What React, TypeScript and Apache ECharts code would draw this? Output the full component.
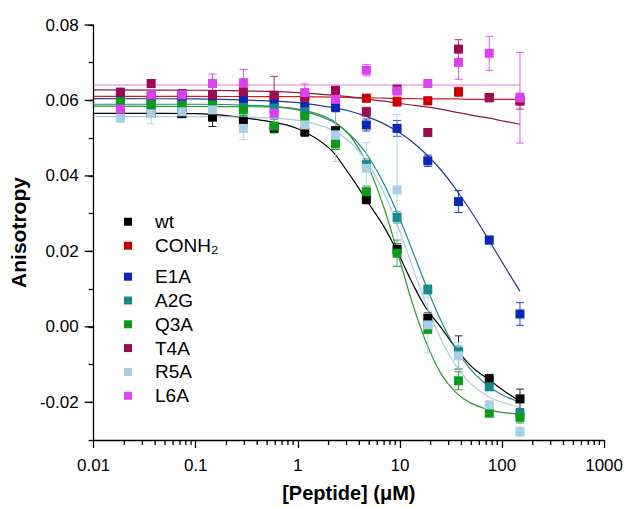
import React, { useEffect, useRef } from "react";
import * as echarts from "echarts";

const FONT = '"Liberation Sans", Arial, Helvetica, sans-serif';

// concentrations (µM), 2-fold dilution series
const conc = [0.0183, 0.0366, 0.0732, 0.146, 0.293, 0.586, 1.17, 2.34, 4.69, 9.38, 18.75, 37.5, 75, 150];

const wt = [0.0566, 0.0567, 0.0565, 0.0556, 0.0544, 0.0527, 0.0517, 0.052, 0.0338, 0.0205, 0.0022, -0.0068, -0.0138, -0.0191];
const wtErr = [0.001, 0.001, 0.001, 0.0025, 0.0015, 0.0012, 0.0012, 0.005, 0.0012, 0.0015, 0.0015, 0.0044, 0.0012, 0.0026];

const conh2 = [0.0612, 0.0612, 0.0611, 0.0614, 0.0612, 0.061, 0.0609, 0.0608, 0.0606, 0.0597, 0.0599, 0.0623, 0.0608, 0.0601];
const conh2Err = [0.001, 0.001, 0.001, 0.0012, 0.0012, 0.001, 0.001, 0.001, 0.001, 0.0012, 0.001, 0.0012, 0.001, 0.0012];

const e1a = [0.0603, 0.06, 0.0601, 0.0602, 0.06, 0.0597, 0.0585, 0.0582, 0.0535, 0.0526, 0.044, 0.0332, 0.023, 0.0034];
const e1aErr = [0.0008, 0.0008, 0.0008, 0.0008, 0.0008, 0.001, 0.001, 0.001, 0.0016, 0.0021, 0.0015, 0.0029, 0.001, 0.003];

const a2g = [0.0592, 0.059, 0.0588, 0.0585, 0.0582, 0.058, 0.057, 0.051, 0.043, 0.029, 0.0099, -0.0066, -0.0159, -0.0229];
const a2gErr = [0.001, 0.001, 0.001, 0.001, 0.001, 0.001, 0.0012, 0.0012, 0.0015, 0.0015, 0.0012, 0.0015, 0.001, 0.0012];

const q3a = [0.0597, 0.059, 0.0585, 0.0588, 0.0575, 0.0532, 0.0557, 0.0485, 0.0358, 0.0195, -0.0006, -0.0143, -0.0229, -0.024];
const q3aErr = [0.001, 0.001, 0.001, 0.001, 0.0015, 0.0018, 0.0015, 0.0015, 0.0015, 0.0035, 0.0012, 0.0024, 0.0008, 0.0015];

const t4a = [0.0622, 0.0645, 0.0618, 0.0615, 0.0623, 0.0614, 0.0613, 0.0626, 0.057, 0.063, 0.0515, 0.0736, 0.0607, 0.0598];
const t4aErr = [0.001, 0.001, 0.001, 0.0012, 0.0015, 0.005, 0.0012, 0.0012, 0.0012, 0.001, 0.001, 0.0025, 0.001, 0.0021];

const r5a = [0.0553, 0.0565, 0.057, 0.0575, 0.0526, 0.0565, 0.0535, 0.0508, 0.042, 0.0363, 0.0005, -0.0077, -0.0207, -0.0278];
const r5aErr = [0.001, 0.0027, 0.0012, 0.003, 0.003, 0.0012, 0.0012, 0.007, 0.0068, 0.02, 0.0074, 0.0035, 0.001, 0.0012];

const l6a = [0.0577, 0.0615, 0.0615, 0.0645, 0.0647, 0.0566, 0.0621, 0.0603, 0.068, 0.0625, 0.0645, 0.0701, 0.0725, 0.0607];
const l6aErr = [0.001, 0.0012, 0.0012, 0.0025, 0.0035, 0.0012, 0.0023, 0.0012, 0.0015, 0.001, 0.001, 0.0045, 0.0045, 0.012];

// fitted curves
const fitX = [0.01, 0.1, 0.5, 1, 2, 3, 4, 5, 7, 10, 13, 18, 25, 35, 50, 75, 100, 150];
const wtFit = [0.0566, 0.0565, 0.0545, 0.0525, 0.0475, 0.0415, 0.0365, 0.0325, 0.0265, 0.0185, 0.012, 0.005, 0.0, -0.0055, -0.0105, -0.0141, -0.0166, -0.0198];
const conh2Fit = [0.0611, 0.0611, 0.061, 0.061, 0.0609, 0.0608, 0.0607, 0.0607, 0.0606, 0.0605, 0.0605, 0.0604, 0.0604, 0.0604, 0.0603, 0.0603, 0.0603, 0.0603];
const e1aFit = [0.0605, 0.0604, 0.0599, 0.0594, 0.0583, 0.0574, 0.0564, 0.0555, 0.0538, 0.0514, 0.0492, 0.0458, 0.0417, 0.0366, 0.0305, 0.0228, 0.0172, 0.0094];
const a2gFit = [0.059, 0.059, 0.0585, 0.0575, 0.0549, 0.0517, 0.0483, 0.0448, 0.0378, 0.0285, 0.0208, 0.011, 0.0019, -0.0056, -0.0115, -0.0159, -0.018, -0.02];
const q3aFit = [0.0585, 0.0584, 0.0583, 0.0577, 0.0553, 0.0517, 0.047, 0.042, 0.0315, 0.0175, 0.007, -0.004, -0.0122, -0.0173, -0.0203, -0.022, -0.0227, -0.0231];
const t4aFit = [0.0628, 0.0627, 0.0624, 0.0621, 0.0615, 0.0611, 0.0607, 0.0603, 0.0598, 0.0592, 0.0588, 0.0583, 0.0577, 0.0569, 0.0561, 0.0553, 0.0546, 0.0537];
const r5aFit = [0.0557, 0.0557, 0.0554, 0.0547, 0.0526, 0.0497, 0.0464, 0.0428, 0.0355, 0.0252, 0.0166, 0.0061, -0.003, -0.0101, -0.0152, -0.0186, -0.02, -0.0214];
const l6aFit = [0.0641, 0.0641, 0.0641, 0.0641, 0.0641, 0.0641, 0.0641, 0.0641, 0.0641, 0.0641, 0.0641, 0.0641, 0.0641, 0.0641, 0.0641, 0.0641, 0.0641, 0.0641];

const seriesNames = ["wt", "CONH₂", "E1A", "A2G", "Q3A", "T4A", "R5A", "L6A"];
const markerColors = ["#000000", "#cc0000", "#0a28b8", "#148a8a", "#0f9a1a", "#9e0a50", "#a8cfe5", "#dd40f0"];
const lineColors = ["#000000", "#c82020", "#283c8c", "#1e8c8c", "#2a9a2a", "#8c1a4a", "#a6cde2", "#e07ee0"];

const xTickValues = [0.01, 0.1, 1, 10, 100, 1000];
const xTickLabels = ["0.01", "0.1", "1", "10", "100", "1000"];
const xMinorMultipliers = [2, 3, 4, 5, 6, 7, 8, 9];
const yMajorValues = [-0.02, 0, 0.02, 0.04, 0.06, 0.08];
const yTickLabels = ["-0.02", "0.00", "0.02", "0.04", "0.06", "0.08"];

const X_MIN = 0.01;
const X_MAX = 1000;
const Y_MIN = -0.03;
const Y_MAX = 0.08;

export default function App() {
  const ref = useRef<HTMLDivElement>(null);
  useEffect(() => {
    if (!ref.current) return;
    const chart = echarts.init(ref.current, undefined, { renderer: "svg" });

    const values = [wt, conh2, e1a, a2g, q3a, t4a, r5a, l6a];
    const errs = [wtErr, conh2Err, e1aErr, a2gErr, q3aErr, t4aErr, r5aErr, l6aErr];
    const fits = [wtFit, conh2Fit, e1aFit, a2gFit, q3aFit, t4aFit, r5aFit, l6aFit];

    const series: any[] = [];
    fits.forEach((f, i) => {
      series.push({
        type: "line",
        data: fitX.map((x, k) => [x, f[k]]),
        smooth: 0.4,
        showSymbol: false,
        silent: true,
        lineStyle: { color: lineColors[i], width: 1.2 },
        z: 2,
      });
    });
    errs.forEach((e, i) => {
      const color = markerColors[i];
      series.push({
        type: "custom",
        data: conc.map((x, k) => [x, values[i][k], e[k]]),
        encode: { x: 0, y: 1 },
        silent: true,
        z: 3,
        renderItem: (params: any, api: any) => {
          const x = api.value(0);
          const y = api.value(1);
          const er = api.value(2);
          const top = api.coord([x, y + er]);
          const bot = api.coord([x, y - er]);
          const cx = top[0];
          const w = 4;
          const style = { stroke: color, lineWidth: 1, opacity: 0.85 };
          return {
            type: "group",
            children: [
              { type: "line", shape: { x1: cx, y1: top[1], x2: cx, y2: bot[1] }, style },
              { type: "line", shape: { x1: cx - w, y1: top[1], x2: cx + w, y2: top[1] }, style },
              { type: "line", shape: { x1: cx - w, y1: bot[1], x2: cx + w, y2: bot[1] }, style },
            ],
          };
        },
      });
    });
    values.forEach((v, i) => {
      series.push({
        type: "scatter",
        name: seriesNames[i],
        data: conc.map((x, k) => [x, v[k]]),
        symbol: "rect",
        symbolSize: 9,
        itemStyle: { color: markerColors[i], opacity: 1 },
        z: 4,
      });
    });

    // minor x ticks (2..9 within each decade)
    const minorX: number[] = [];
    xTickValues.slice(0, -1).forEach((d) => xMinorMultipliers.forEach((m) => minorX.push(d * m)));
    series.push({
      type: "custom",
      data: minorX.map((v) => [v, Y_MIN]),
      encode: { x: 0, y: 1 },
      silent: true,
      clip: false,
      z: 5,
      renderItem: (params: any, api: any) => {
        const p = api.coord([api.value(0), Y_MIN]);
        return {
          type: "line",
          shape: { x1: p[0], y1: p[1], x2: p[0], y2: p[1] + 5 },
          style: { stroke: "#000", lineWidth: 1.3 },
        };
      },
    });
    // major y ticks (longer)
    series.push({
      type: "custom",
      data: yMajorValues.map((v) => [X_MIN, v]),
      encode: { x: 0, y: 1 },
      silent: true,
      clip: false,
      z: 5,
      renderItem: (params: any, api: any) => {
        const p = api.coord([X_MIN, api.value(1)]);
        return {
          type: "line",
          shape: { x1: p[0] - 9, y1: p[1], x2: p[0], y2: p[1] },
          style: { stroke: "#000", lineWidth: 1.3 },
        };
      },
    });

    const legendText = {
      fontSize: 19,
      lineHeight: 20,
      color: "#000",
      fontFamily: FONT,
      rich: { s: { width: 18 } },
    };
    const legendBase = {
      orient: "vertical",
      left: 124,
      padding: 0,
      icon: "rect",
      itemWidth: 8,
      itemHeight: 8,
      selectedMode: false,
      textStyle: legendText,
      itemStyle: { opacity: 1 },
      formatter: (n: string) => "{s|}" + n,
    };

    chart.setOption({
      animation: false,
      backgroundColor: "#ffffff",
      textStyle: { fontFamily: FONT },
      grid: { left: 91.5, top: 25, width: 513.5, height: 415 },
      legend: [
        { ...legendBase, top: 211.7, itemGap: 4, data: seriesNames.slice(0, 2) },
        { ...legendBase, top: 266.7, itemGap: 3.8, data: seriesNames.slice(2) },
      ],
      xAxis: {
        type: "log",
        logBase: 10,
        min: X_MIN,
        max: X_MAX,
        name: "[Peptide] (μM)",
        nameLocation: "middle",
        nameGap: 43,
        nameTextStyle: { fontSize: 20, fontWeight: "bold", color: "#000", fontFamily: FONT },
        axisLine: { onZero: false, lineStyle: { color: "#000", width: 1.3 } },
        axisTick: { length: 8, lineStyle: { color: "#000", width: 1.3 } },
        axisLabel: {
          fontSize: 17,
          color: "#000",
          margin: 17,
          fontFamily: FONT,
          formatter: (v: number) => {
            const idx = xTickValues.findIndex((t) => Math.abs(Math.log10(t) - Math.log10(v)) < 1e-6);
            return idx >= 0 ? xTickLabels[idx] : "";
          },
        },
        splitLine: { show: false },
      },
      yAxis: {
        type: "value",
        min: Y_MIN,
        max: Y_MAX,
        interval: 0.01,
        name: "Anisotropy",
        nameLocation: "middle",
        nameGap: 63,
        nameTextStyle: { fontSize: 21, fontWeight: "bold", color: "#000", fontFamily: FONT },
        axisLine: { show: true, lineStyle: { color: "#000", width: 1.3 } },
        axisTick: { show: true, length: 5, lineStyle: { color: "#000", width: 1.3 } },
        axisLabel: {
          fontSize: 17,
          color: "#000",
          margin: 15,
          fontFamily: FONT,
          formatter: (v: number) => {
            const idx = yMajorValues.findIndex((t) => Math.abs(t - v) < 1e-6);
            return idx >= 0 ? yTickLabels[idx] : "";
          },
        },
        splitLine: { show: false },
      },
      series,
    });
    return () => chart.dispose();
  }, []);
  return (
    <div
      ref={ref}
      style={{ position: "fixed", left: 0, top: 0, width: 626, height: 509, background: "#fff" }}
    />
  );
}
